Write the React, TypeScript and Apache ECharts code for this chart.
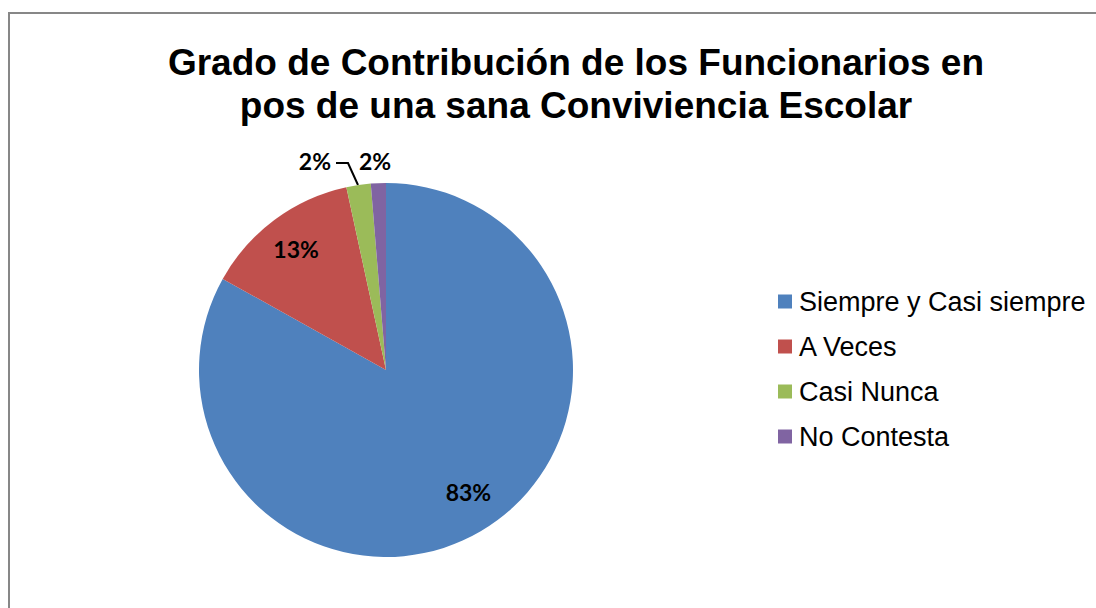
import React, { useEffect, useRef } from "react";
import * as echarts from "echarts";

const TITLE_LINES = [
  "Grado de Contribución de los Funcionarios en",
  "pos de una sana Conviviencia Escolar",
];
const CATEGORIES = ["Siempre y Casi siempre", "A Veces", "Casi Nunca", "No Contesta"];
const VALUES = [83.1, 13.5, 2.1, 1.3];
const LABELS = ["83%", "13%", "2%", "2%"];
const COLORS = ["#4F81BD", "#C0504D", "#9BBB59", "#8064A2"];

export default function App() {
  const ref = useRef<HTMLDivElement>(null);
  useEffect(() => {
    if (!ref.current) return;
    const chart = echarts.init(ref.current, undefined, { renderer: "svg" });
    const labelFont = {
      fontFamily: "Lato",
      fontWeight: "bold" as const,
      fontSize: 23,
      color: "#000",
    };
    chart.setOption({
      animation: false,
      backgroundColor: "#fff",
      color: COLORS,
      title: {
        text: TITLE_LINES.join("\n"),
        left: 576,
        top: 41,
        padding: 0,
        textAlign: "center",
        textStyle: {
          fontFamily: "Liberation Sans",
          fontWeight: "bold",
          fontSize: 37,
          lineHeight: 43,
          color: "#000",
        },
      },
      legend: {
        orient: "vertical",
        left: 778,
        top: 288,
        itemWidth: 14,
        itemHeight: 14,
        itemGap: 18,
        icon: "rect",
        padding: 0,
        data: CATEGORIES,
        textStyle: {
          fontFamily: "Liberation Sans",
          fontSize: 27,
          lineHeight: 27,
          color: "#000",
          padding: [0, 0, 0, 2],
        },
      },
      graphic: [
        {
          type: "rect",
          shape: { x: 9, y: 13, width: 1200, height: 700 },
          style: { fill: "none", stroke: "#878787", lineWidth: 2 },
          silent: true,
        },
      ],
      series: [
        {
          type: "pie",
          center: [386, 370],
          radius: [0, 187],
          startAngle: 90,
          clockwise: true,
          avoidLabelOverlap: false,
          itemStyle: { borderWidth: 0 },
          label: { show: false },
          data: VALUES.map((v, i) => ({
            name: CATEGORIES[i],
            value: v,
            label:
              i >= 2
                ? {
                    show: true,
                    position: "outside",
                    formatter: LABELS[i],
                    distanceToLabelLine: 4,
                    ...labelFont,
                  }
                : { show: false },
            labelLine:
              i === 2
                ? { show: true, length: 22, length2: 11, lineStyle: { color: "#000", width: 2 } }
                : { show: false },
          })),
          labelLayout: (params: any) => {
            if (params.dataIndex === 2) {
              return {
                x: 331,
                y: 161,
                align: "right",
                verticalAlign: "middle",
                labelLinePoints: [
                  [358, 185],
                  [348, 163],
                  [336, 163],
                ],
              };
            }
            if (params.dataIndex === 3) {
              return { x: 375, y: 161, align: "center", verticalAlign: "middle" };
            }
            return {};
          },
          emphasis: { disabled: true },
        },
        {
          type: "pie",
          center: [386, 370],
          radius: [0, 296],
          startAngle: 90,
          clockwise: true,
          silent: true,
          avoidLabelOverlap: false,
          itemStyle: { color: "rgba(0,0,0,0)", borderWidth: 0 },
          labelLine: { show: false },
          data: VALUES.map((v, i) => ({
            name: CATEGORIES[i],
            value: v,
            label:
              i < 2
                ? { show: true, position: "inside", formatter: LABELS[i], ...labelFont }
                : { show: false },
          })),
          labelLayout: (params: any) => {
            if (params.dataIndex === 0) return { dx: 6, dy: -8 };
            return {};
          },
          emphasis: { disabled: true },
        },
      ],
    });
    return () => chart.dispose();
  }, []);
  return (
    <div
      ref={ref}
      style={{ position: "fixed", left: 0, top: 0, width: 1096, height: 608 }}
    />
  );
}
